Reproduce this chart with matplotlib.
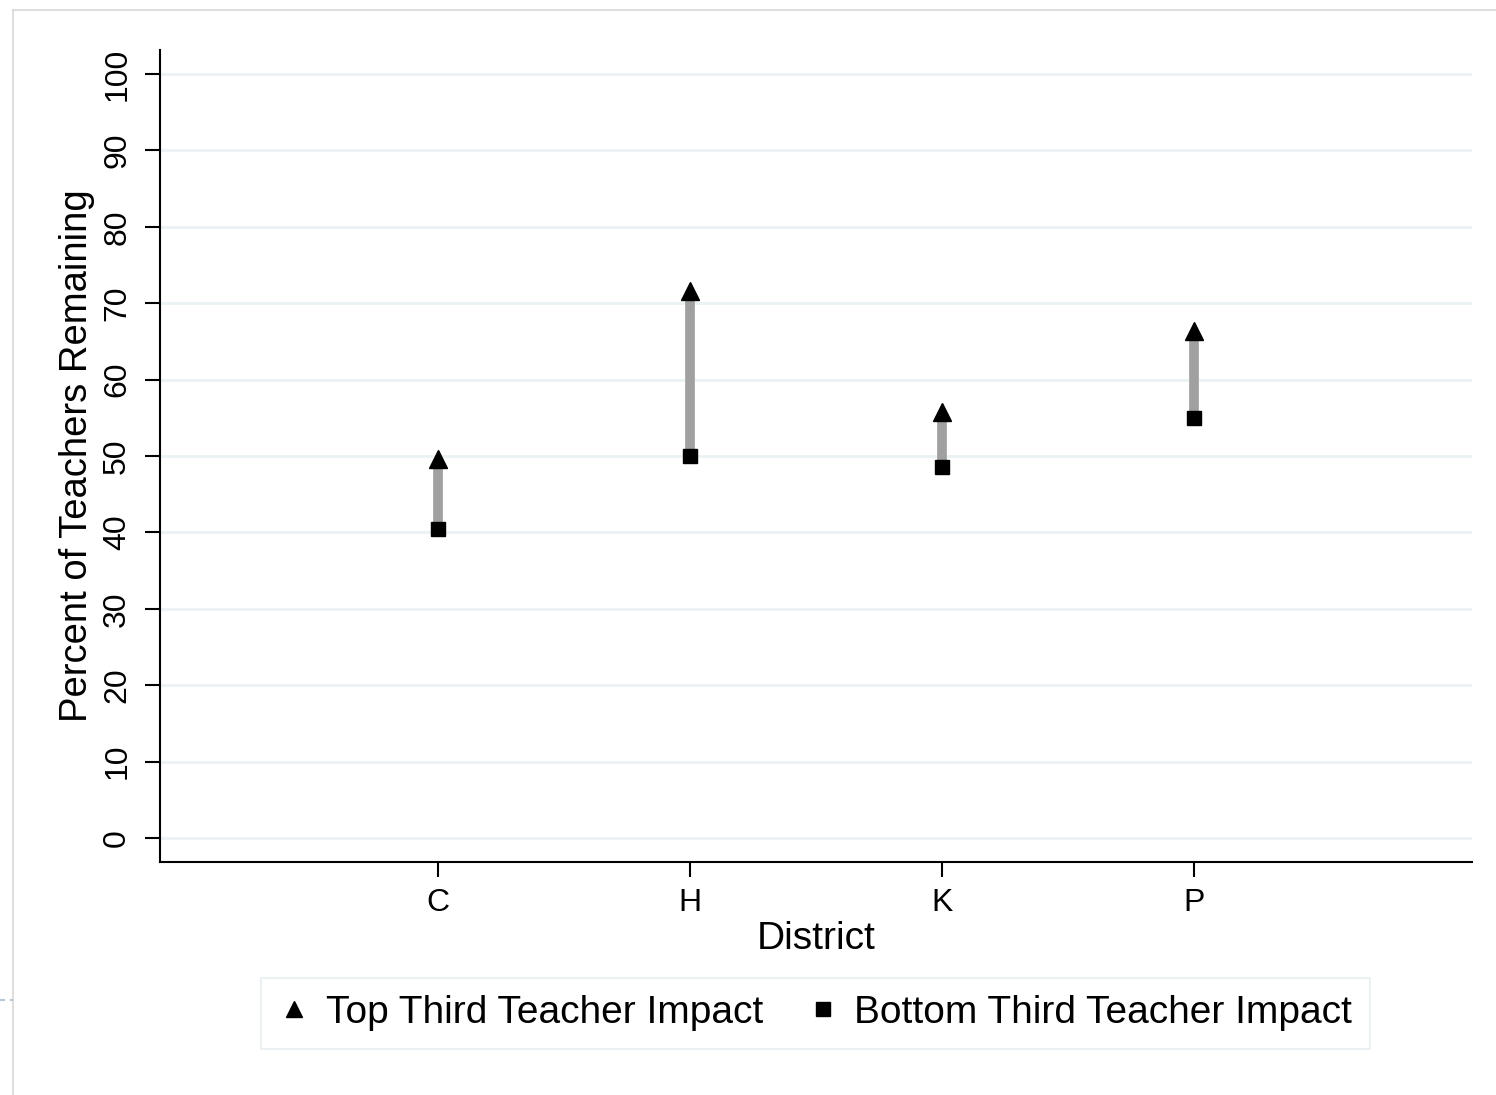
import matplotlib
matplotlib.use("Agg")
import matplotlib.pyplot as plt
from matplotlib.lines import Line2D

districts = ["C", "H", "K", "P"]
top_third = [49.6, 71.6, 55.8, 66.4]
bottom_third = [40.4, 50.0, 48.6, 55.0]
yticks = [0, 10, 20, 30, 40, 50, 60, 70, 80, 90, 100]

plt.rcParams['font.family'] = ['Liberation Sans', 'DejaVu Sans']

fig = plt.figure(figsize=(14.96, 10.95), dpi=100)
ax = fig.add_axes([160/1496, 1 - 862/1095, (1472-160)/1496, (862-50)/1095])

x = list(range(1, len(districts) + 1))
for yt in yticks:
    ax.axhline(yt, color='#eaf2f3', lw=2, zorder=0)

ax.vlines(x, bottom_third, top_third, color='#a0a0a0', lw=7, zorder=2)
ax.plot(x, top_third, linestyle='none', marker='^', ms=13, color='black', zorder=3)
ax.plot(x, bottom_third, linestyle='none', marker='s', ms=10, color='black', zorder=3)

ax.set_xlim(-0.1, 5.1)
ax.set_ylim(-3.14, 103.14)
ax.set_xticks(x)
ax.set_xticklabels(districts)
ax.set_yticks(yticks)
ax.set_yticklabels([str(v) for v in yticks], rotation=90, va='center')

for s in ['top', 'right']:
    ax.spines[s].set_visible(False)
for s in ['left', 'bottom']:
    ax.spines[s].set_linewidth(1.5)
ax.tick_params(axis='y', length=11, width=1.5, labelsize=23, pad=9)
ax.tick_params(axis='x', length=11, width=1.5, labelsize=23, pad=8)

ax.set_ylabel("Percent of Teachers Remaining", fontsize=27.5, labelpad=5)
ax.set_xlabel("District", fontsize=28, labelpad=2)

handles = [
    Line2D([], [], linestyle='none', marker='^', ms=12, color='black'),
    Line2D([], [], linestyle='none', marker='s', ms=10, color='black'),
]
leg = fig.legend(handles, ["Top Third Teacher Impact", "Bottom Third Teacher Impact"],
                 loc='center', bbox_to_anchor=(815.5/1496, 1 - 1013/1095), ncol=2,
                 fontsize=28, frameon=True, fancybox=False, edgecolor='#e8eff1',
                 handlelength=0.8, handletextpad=0.4, columnspacing=1.15,
                 borderpad=0.45, borderaxespad=0)
leg.get_frame().set_linewidth(1.5)

# outer frame lines (left and top)
fig.add_artist(Line2D([13/1496, 13/1496], [0, 1 - 10/1095], color='#d8d8d8', lw=1.2))
fig.add_artist(Line2D([13/1496, 1], [1 - 10/1095, 1 - 10/1095], color='#d8d8d8', lw=1.2))
fig.add_artist(Line2D([0, 13/1496], [1 - 1000/1095, 1 - 1000/1095], color='#a8bcd0', lw=1.2, ls=(0, (3, 3))))

fig.savefig("out.png", dpi=100)
